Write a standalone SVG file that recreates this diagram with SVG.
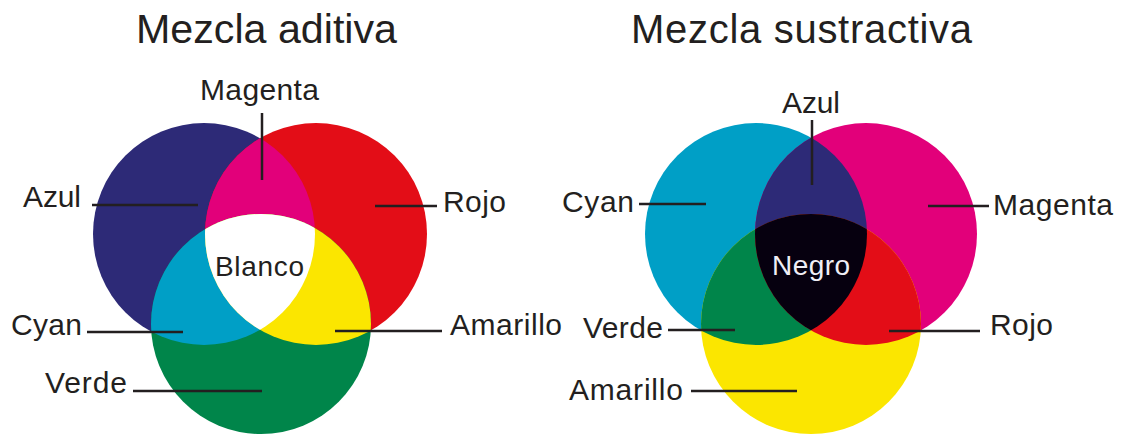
<svg xmlns="http://www.w3.org/2000/svg" width="1123" height="436" viewBox="0 0 1123 436">
<style>
text{font-family:"Liberation Sans",Arial,sans-serif;fill:#231f20}
.title{font-size:40px}
.lbl{font-size:30px}
.in{font-size:28px}
.conn line{stroke:#231f20;stroke-width:2.5;fill:none}
</style>
<defs>
<clipPath id="cB"><circle cx="204" cy="234" r="111"/></clipPath>
<clipPath id="cR"><circle cx="316" cy="234" r="111"/></clipPath>
<clipPath id="cC"><circle cx="756" cy="234" r="111"/></clipPath>
<clipPath id="cM"><circle cx="866" cy="234" r="111"/></clipPath>
</defs>
<rect width="1123" height="436" fill="#fff"/>
<g id="title-aditiva"><text class="title" x="136" y="43" textLength="261" lengthAdjust="spacingAndGlyphs">Mezcla aditiva</text></g>
<g id="title-sustractiva"><text class="title" x="631" y="43" textLength="341" lengthAdjust="spacing">Mezcla sustractiva</text></g>

<g id="aditiva">
<g id="a-azul"><circle cx="204" cy="234" r="111" fill="#2d2a77"/></g>
<g id="a-rojo"><circle cx="316" cy="234" r="111" fill="#e30d17"/></g>
<g id="a-verde"><circle cx="261" cy="324" r="110" fill="#00854a"/></g>
<g id="a-magenta"><circle cx="316" cy="234" r="111" fill="#e2007a" clip-path="url(#cB)"/></g>
<g id="a-cyan"><circle cx="261" cy="324" r="110" fill="#009fc6" clip-path="url(#cB)"/></g>
<g id="a-amarillo"><circle cx="261" cy="324" r="110" fill="#fbe600" clip-path="url(#cR)"/></g>
<g id="a-blanco"><g clip-path="url(#cB)"><circle cx="261" cy="324" r="110" fill="#ffffff" clip-path="url(#cR)"/></g>
<text class="in" x="215" y="276" textLength="89">Blanco</text></g>
</g>

<g id="sustractiva">
<g id="s-cyan"><circle cx="756" cy="234" r="111" fill="#009fc6"/></g>
<g id="s-magenta"><circle cx="866" cy="234" r="111" fill="#e2007a"/></g>
<g id="s-amarillo"><circle cx="811" cy="324" r="110" fill="#fbe600"/></g>
<g id="s-azul"><circle cx="866" cy="234" r="111" fill="#2d2a77" clip-path="url(#cC)"/></g>
<g id="s-verde"><circle cx="811" cy="324" r="110" fill="#00854a" clip-path="url(#cC)"/></g>
<g id="s-rojo"><circle cx="811" cy="324" r="110" fill="#e30d17" clip-path="url(#cM)"/></g>
<g id="s-negro"><g clip-path="url(#cC)"><circle cx="811" cy="324" r="110" fill="#06000f" clip-path="url(#cM)"/></g>
<text class="in" x="772" y="275" textLength="78" style="fill:#f0eef5">Negro</text></g>
</g>

<g id="connectors" class="conn">
<line x1="262" y1="113" x2="262" y2="180"/>
<line x1="92" y1="205" x2="198" y2="205"/>
<line x1="375" y1="206" x2="437" y2="206"/>
<line x1="87" y1="332" x2="183" y2="332"/>
<line x1="335" y1="331" x2="442" y2="331"/>
<line x1="133" y1="391" x2="262" y2="391"/>
<line x1="812" y1="120" x2="812" y2="185"/>
<line x1="639" y1="204" x2="706" y2="204"/>
<line x1="928" y1="206" x2="989" y2="206"/>
<line x1="668" y1="330" x2="735" y2="330"/>
<line x1="889" y1="331" x2="980" y2="331"/>
<line x1="691" y1="391" x2="797" y2="391"/>
</g>

<g id="labels">
<g id="lbl-a-magenta"><text class="lbl" x="200" y="100" textLength="119">Magenta</text></g>
<g id="lbl-a-azul"><text class="lbl" x="23" y="207" textLength="58">Azul</text></g>
<g id="lbl-a-rojo"><text class="lbl" x="443" y="212" textLength="63">Rojo</text></g>
<g id="lbl-a-cyan"><text class="lbl" x="11" y="335" textLength="71">Cyan</text></g>
<g id="lbl-a-amarillo"><text class="lbl" x="450" y="335" textLength="112">Amarillo</text></g>
<g id="lbl-a-verde"><text class="lbl" x="45" y="393" textLength="82">Verde</text></g>
<g id="lbl-s-azul"><text class="lbl" x="782" y="113" textLength="58">Azul</text></g>
<g id="lbl-s-cyan"><text class="lbl" x="562" y="212" textLength="72">Cyan</text></g>
<g id="lbl-s-magenta"><text class="lbl" x="993" y="215" textLength="120">Magenta</text></g>
<g id="lbl-s-verde"><text class="lbl" x="583" y="338" textLength="80">Verde</text></g>
<g id="lbl-s-rojo"><text class="lbl" x="990" y="335" textLength="63">Rojo</text></g>
<g id="lbl-s-amarillo"><text class="lbl" x="569" y="400" textLength="114">Amarillo</text></g>
</g>
</svg>
